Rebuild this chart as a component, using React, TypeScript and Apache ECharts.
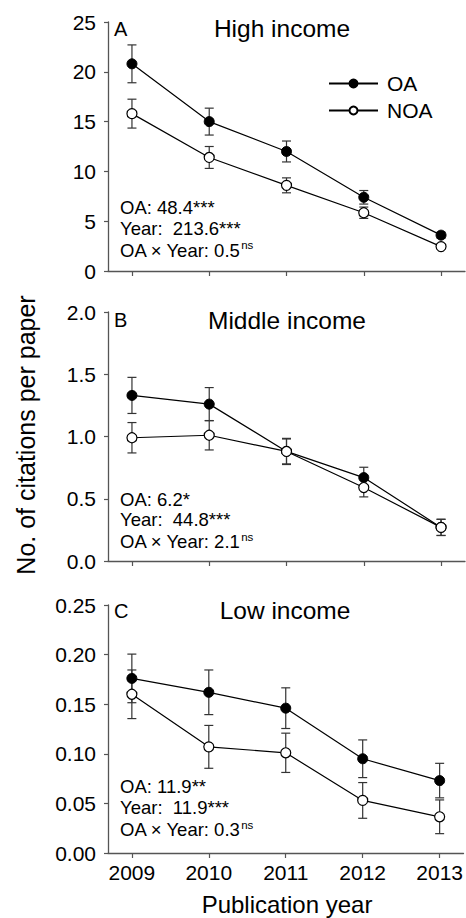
import React, { useEffect, useRef } from 'react';
import * as echarts from 'echarts';

const years = [2009, 2010, 2011, 2012, 2013];

const highOA = [20.8, 15.0, 12.0, 7.4, 3.6];
const highOAErr = [1.9, 1.35, 1.05, 0.68, 0.3];
const highNOA = [15.8, 11.4, 8.6, 5.85, 2.45];
const highNOAErr = [1.45, 1.1, 0.75, 0.57, 0.22];

const middleOA = [1.33, 1.26, 0.88, 0.67, 0.27];
const middleOAErr = [0.145, 0.133, 0.105, 0.083, 0.065];
const middleNOA = [0.99, 1.01, 0.88, 0.59, 0.27];
const middleNOAErr = [0.122, 0.118, 0.1, 0.075, 0.065];

const lowOA = [0.176, 0.162, 0.146, 0.095, 0.073];
const lowOAErr = [0.0245, 0.0225, 0.0205, 0.019, 0.0174];
const lowNOA = [0.16, 0.107, 0.101, 0.053, 0.0365];
const lowNOAErr = [0.0245, 0.0216, 0.0198, 0.018, 0.017];

const panelTitles = ['High income', 'Middle income', 'Low income'];
const panelLetters = ['A', 'B', 'C'];
const yMax = [25, 2.0, 0.25];
const yInterval = [5, 0.5, 0.05];
const yDecimals = [0, 1, 2];

const statsOA = ['48.4***', '6.2*', '11.9**'];
const statsYear = ['213.6***', '44.8***', '11.9***'];
const statsInter = ['0.5', '2.1', '0.3'];

const FONT = '"Liberation Sans", Arial, Helvetica, sans-serif';
const AXIS_COLOR = '#555';

export default function App() {
  const ref = useRef<HTMLDivElement>(null);

  useEffect(() => {
    document.body.style.margin = '0';
    const chart = echarts.init(ref.current!, null, { renderer: 'svg' });

    const panels = [
      { oa: highOA, oaErr: highOAErr, noa: highNOA, noaErr: highNOAErr },
      { oa: middleOA, oaErr: middleOAErr, noa: middleNOA, noaErr: middleNOAErr },
      { oa: lowOA, oaErr: lowOAErr, noa: lowNOA, noaErr: lowNOAErr },
    ];

    const grids = [
      { left: 108, right: 1, top: 22, height: 249 },
      { left: 108, right: 1, top: 312, height: 249 },
      { left: 108, right: 1, top: 605, height: 248 },
    ];

    const xAxes = grids.map((_, i) => ({
      type: 'value',
      gridIndex: i,
      min: 2008.69,
      max: 2013.31,
      axisLine: { show: true, onZero: false, lineStyle: { color: AXIS_COLOR, width: 1.3 } },
      axisTick: { show: true, length: 5, customValues: years, lineStyle: { color: AXIS_COLOR, width: 1.2 } },
      axisLabel: {
        show: i === 2,
        customValues: years,
        fontSize: 21,
        fontFamily: FONT,
        color: '#000',
        margin: 9,
        formatter: (v: number) => String(Math.round(v)),
      },
      splitLine: { show: false },
    }));

    const yAxes = grids.map((_, i) => ({
      type: 'value',
      gridIndex: i,
      min: 0,
      max: yMax[i],
      interval: yInterval[i],
      axisLine: { show: true, lineStyle: { color: AXIS_COLOR, width: 1.3 } },
      axisTick: { show: true, length: 4, lineStyle: { color: AXIS_COLOR, width: 1.2 } },
      axisLabel: {
        fontSize: 21,
        fontFamily: FONT,
        color: '#000',
        margin: 12,
        formatter: (v: number) => v.toFixed(yDecimals[i]),
      },
      splitLine: { show: false },
    }));

    const errSeries = (i: number, vals: number[], errs: number[], name: string) => ({
      type: 'custom',
      name,
      xAxisIndex: i,
      yAxisIndex: i,
      z: 1,
      silent: true,
      data: years.map((y, j) => [y, vals[j] - errs[j], vals[j] + errs[j]]),
      encode: { x: 0, y: [1, 2] },
      renderItem: (_params: any, api: any) => {
        const x = api.value(0);
        const p1 = api.coord([x, api.value(1)]);
        const p2 = api.coord([x, api.value(2)]);
        const w = 4.5;
        const style = { stroke: '#333', lineWidth: 1.2 };
        return {
          type: 'group',
          children: [
            { type: 'line', shape: { x1: p1[0], y1: p1[1], x2: p2[0], y2: p2[1] }, style },
            { type: 'line', shape: { x1: p1[0] - w, y1: p1[1], x2: p1[0] + w, y2: p1[1] }, style },
            { type: 'line', shape: { x1: p2[0] - w, y1: p2[1], x2: p2[0] + w, y2: p2[1] }, style },
          ],
        };
      },
    });

    const series: any[] = [];
    panels.forEach((p, i) => {
      series.push(errSeries(i, p.oa, p.oaErr, 'OA error'));
      series.push(errSeries(i, p.noa, p.noaErr, 'NOA error'));
      series.push({
        type: 'line',
        name: 'OA',
        xAxisIndex: i,
        yAxisIndex: i,
        z: 3,
        data: years.map((y, j) => [y, p.oa[j]]),
        symbol: 'circle',
        symbolSize: 10,
        showSymbol: true,
        itemStyle: { color: '#000', borderColor: '#000', borderWidth: 1 },
        lineStyle: { color: '#000', width: 1.2 },
      });
      series.push({
        type: 'line',
        name: 'NOA',
        xAxisIndex: i,
        yAxisIndex: i,
        z: 3,
        data: years.map((y, j) => [y, p.noa[j]]),
        symbol: 'circle',
        symbolSize: 10,
        showSymbol: true,
        itemStyle: { color: '#fff', borderColor: '#000', borderWidth: 1.2 },
        lineStyle: { color: '#000', width: 1.2 },
      });
    });

    const titleY = [28.6, 320.6, 610.6];
    const titleX = [282, 287, 285];
    const letterY = [29, 319.5, 611];
    const statY = [
      [207, 228, 250],
      [499.3, 519.3, 541.7],
      [786.3, 807, 829.7],
    ];

    const graphic: any[] = [];
    panels.forEach((_, i) => {
      graphic.push({
        type: 'text',
        x: titleX[i],
        y: titleY[i],
        style: { text: panelTitles[i], fontSize: 24.5, fontFamily: FONT, fill: '#000', textAlign: 'center', textVerticalAlign: 'middle' },
      });
      graphic.push({
        type: 'text',
        x: 114,
        y: letterY[i],
        style: { text: panelLetters[i], fontSize: 20, fontFamily: FONT, fill: '#000', textAlign: 'left', textVerticalAlign: 'middle' },
      });
      const lines = [
        { text: 'OA: ' + statsOA[i] },
        { text: 'Year:\u00a0 ' + statsYear[i] },
        { text: '{m|OA × Year: ' + statsInter[i] + '}{s|ns}' },
      ];
      lines.forEach((ln, k) => {
        graphic.push({
          type: 'text',
          x: 120,
          y: statY[i][k],
          style: {
            text: ln.text,
            fontSize: 18.5,
            fontFamily: FONT,
            fill: '#000',
            textAlign: 'left',
            textVerticalAlign: 'middle',
            rich: {
              m: { fontSize: 18.5, fontFamily: FONT, fill: '#000', lineHeight: 22, verticalAlign: 'middle' },
              s: { fontSize: 11.5, fontFamily: FONT, fill: '#000', lineHeight: 11, verticalAlign: 'top' },
            },
          },
        });
      });
    });

    graphic.push({
      type: 'text',
      x: 26,
      y: 435,
      rotation: Math.PI / 2,
      style: { text: 'No. of citations per paper', fontSize: 25, fontFamily: FONT, fill: '#000', textAlign: 'center', textVerticalAlign: 'middle' },
    });
    graphic.push({
      type: 'text',
      x: 287,
      y: 904,
      style: { text: 'Publication year', fontSize: 24, fontFamily: FONT, fill: '#000', textAlign: 'center', textVerticalAlign: 'middle' },
    });

    chart.setOption({
      animation: false,
      backgroundColor: '#fff',
      grid: grids,
      xAxis: xAxes,
      yAxis: yAxes,
      legend: {
        data: ['OA', 'NOA'],
        orient: 'vertical',
        left: 323,
        top: 68,
        itemWidth: 49,
        itemHeight: 10,
        itemGap: 6,
        selectedMode: false,
        textStyle: { fontSize: 21, fontFamily: FONT, color: '#000', padding: [0, 0, 0, 4] },
      },
      series,
      graphic,
    });

    return () => chart.dispose();
  }, []);

  return <div ref={ref} style={{ width: 466, height: 918 }} />;
}
